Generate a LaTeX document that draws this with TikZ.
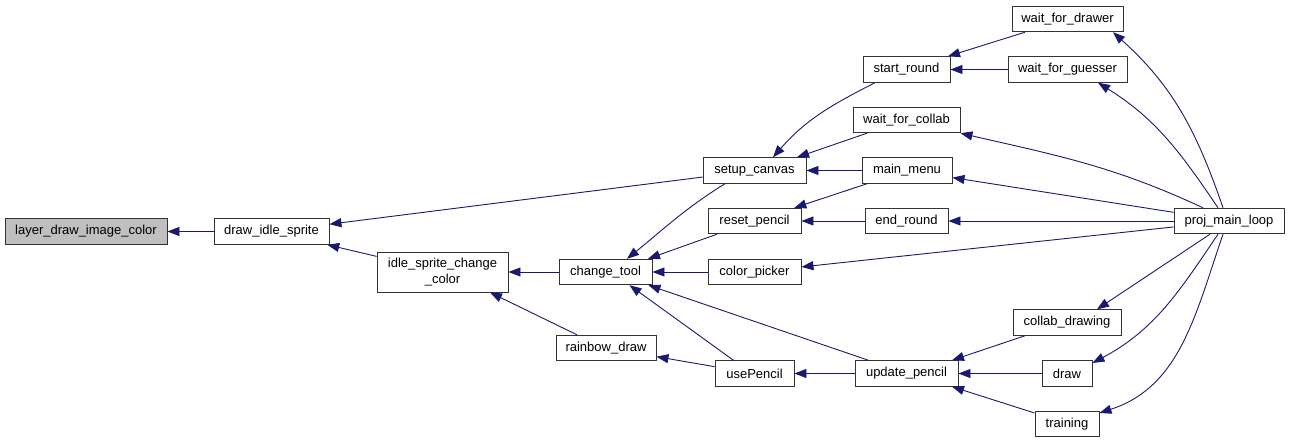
\documentclass[tikz,border=0pt]{standalone}
\usepackage{fontspec}
\setmainfont{Liberation Sans}
\usetikzlibrary{arrows.meta,calc}
\definecolor{edgec}{HTML}{191970}
\definecolor{rootfill}{HTML}{BFBFBF}
\begin{document}
\begin{tikzpicture}[x=1pt,y=1pt,
  fn/.style={draw=black!80, line width=0.9pt, fill=white, inner sep=0pt,
    minimum height=25.5pt, font=\fontsize{13}{16}\selectfont, anchor=center},
  call/.style={draw=edgec, line width=0.9pt, -{Triangle[length=12pt,width=9pt]}}]
\useasboundingbox (0,0) rectangle (1289,-443);
\fill[white] (0,0) rectangle (1289,-443);
% nodes
\node[fn, fill=rootfill, minimum width=162pt] (ldic) at (86,-231.5) {layer\_draw\_image\_color};
\node[fn, minimum width=115pt] (dis) at (271.5,-231.5) {draw\_idle\_sprite};
\node[fn, minimum width=131pt, minimum height=40pt, align=center] (iscc) at (442.5,-272) {idle\_sprite\_change\\\_color};
\node[fn, minimum width=103pt] (sc) at (754.5,-170.5) {setup\_canvas};
\node[fn, minimum width=93pt] (ct) at (605.5,-272) {change\_tool};
\node[fn, minimum width=100pt] (rd) at (606,-348) {rainbow\_draw};
\node[fn, minimum width=87pt] (sr) at (906.5,-69.5) {start\_round};
\node[fn, minimum width=107pt] (wfc) at (906.5,-120) {wait\_for\_collab};
\node[fn, minimum width=90pt] (mm) at (907,-170.5) {main\_menu};
\node[fn, minimum width=93pt] (rp) at (754.5,-221) {reset\_pencil};
\node[fn, minimum width=83pt] (er) at (906.5,-221) {end\_round};
\node[fn, minimum width=93pt] (cp) at (754.5,-272) {color\_picker};
\node[fn, minimum width=79pt] (up) at (754.5,-373.5) {usePencil};
\node[fn, minimum width=103pt] (upd) at (906.5,-373.5) {update\_pencil};
\node[fn, minimum width=111pt] (wfd) at (1067.5,-19) {wait\_for\_drawer};
\node[fn, minimum width=119pt] (wfg) at (1067.5,-69.5) {wait\_for\_guesser};
\node[fn, minimum width=110pt] (pml) at (1229,-221) {proj\_main\_loop};
\node[fn, minimum width=108pt] (cd) at (1067,-322.5) {collab\_drawing};
\node[fn, minimum width=50pt] (dr) at (1067,-373.5) {draw};
\node[fn, minimum width=64pt] (tr) at (1067,-424) {training};
% edges (tip at the callee)
\draw[call] (dis.west) -- (ldic.east);
\draw[call] (sc) -- (dis);
\draw[call] (iscc) -- (dis);
\draw[call] (ct.west) -- (iscc.east);
\draw[call] ([xshift=-29pt]rd.north) -- ([xshift=47.5pt]iscc.south);
\draw[call] ([xshift=-31.5pt]sr.south) to[out=207,in=49] ([xshift=18.5pt]sc.north);
\draw[call] ([xshift=-39.5pt]wfc.south) -- ([xshift=42.5pt]sc.north);
\draw[call] (mm.west) -- (sc.east);
\draw[call] ([xshift=-29.5pt]sc.south) to[out=212,in=39] ([xshift=21.5pt]ct.north);
\draw[call] ([xshift=-37.5pt]rp.south) -- ([xshift=42.5pt]ct.north);
\draw[call] (cp.west) -- (ct.east);
\draw[call] ([xshift=-21pt]up.north) -- ([xshift=24pt]ct.south);
\draw[call] ([xshift=-38pt]upd.north) -- ([xshift=-4pt]ct.south east);
\draw[call] (up) -- (rd);
\draw[call] (upd.west) -- (up.east);
\draw[call] (mm) -- (rp);
\draw[call] (er.west) -- (rp.east);
\draw[call] ([xshift=-42.5pt]wfd.south) -- ([xshift=41.5pt]sr.north);
\draw[call] (wfg.west) -- (sr.east);
\draw[call] ([xshift=-6pt]pml.north) to[out=109,in=-42] ([xshift=45.5pt]wfd.south);
\draw[call] ([xshift=-11pt]pml.north) to[out=124,in=-32] ([xshift=30.5pt]wfg.south);
\draw[call] ([xshift=-26pt]pml.north) to[out=155,in=-13] (wfc.south east);
\draw[call] (pml) -- (mm);
\draw[call] (pml.west) -- (er.east);
\draw[call] (pml) -- (cp);
\draw[call] ([xshift=-19pt]pml.south) -- ([xshift=30pt]cd.north);
\draw[call] ([xshift=-11pt]pml.south) to[out=236,in=28] ([yshift=10.5pt]dr.east);
\draw[call] ([xshift=-6pt]pml.south) to[out=251,in=18] ([yshift=11pt]tr.east);
\draw[call] ([xshift=-42pt]cd.south) -- ([xshift=45.5pt]upd.north);
\draw[call] (dr.west) -- (upd.east);
\draw[call] ([yshift=11pt]tr.west) -- ([xshift=45.5pt]upd.south);
\end{tikzpicture}
\end{document}
